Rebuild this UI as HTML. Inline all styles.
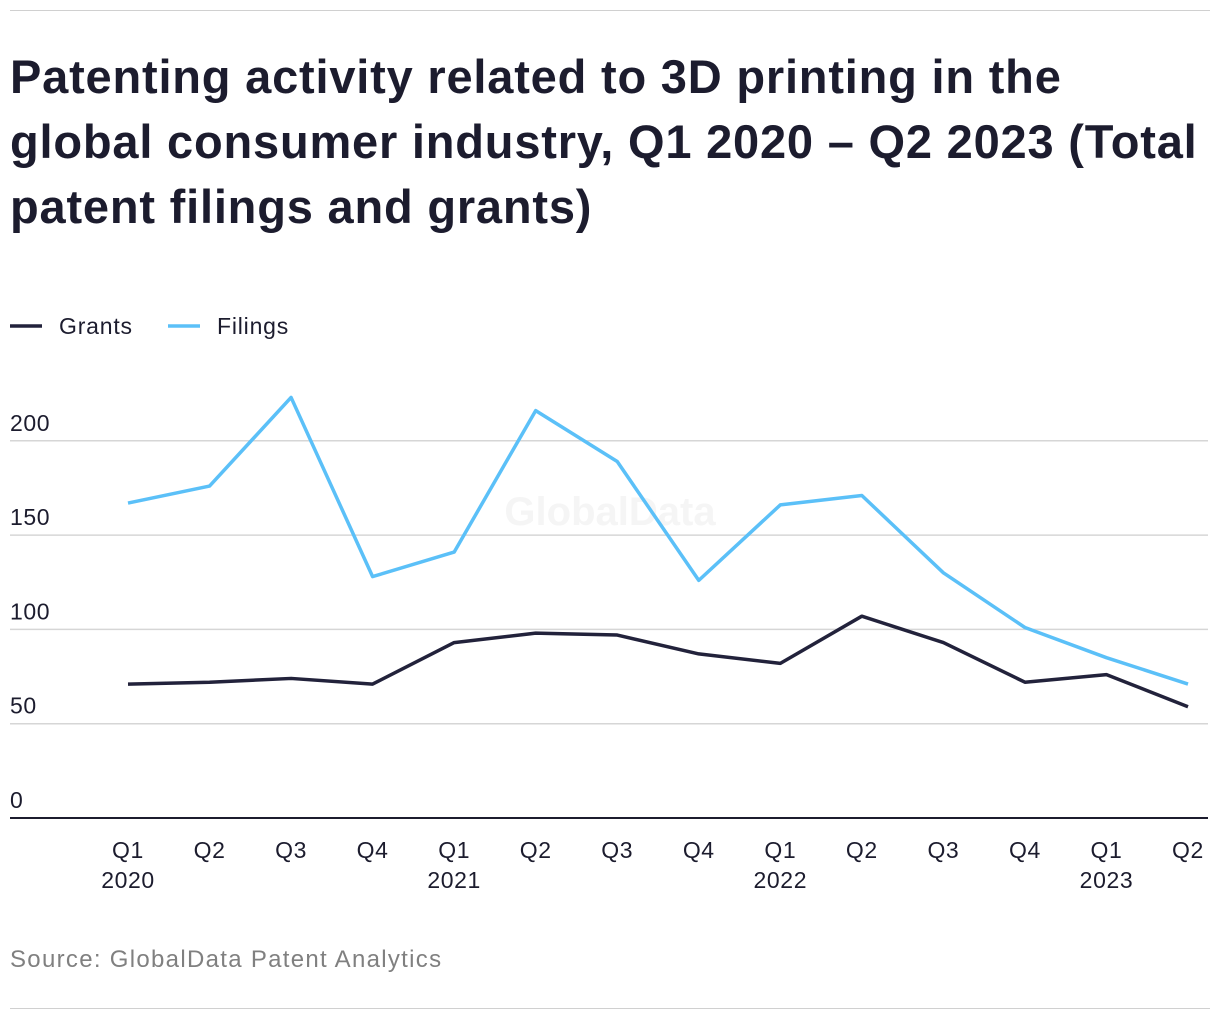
<!DOCTYPE html>
<html><head><meta charset="utf-8"><style>
body{margin:0;width:1220px;height:1020px;background:#fff;font-family:"Liberation Sans",sans-serif;position:relative;overflow:hidden}
.rule{position:absolute;left:10px;width:1200px;height:1px;background:#d0d0d0}
h1{position:absolute;left:10px;top:44px;margin:0;width:1215px;white-space:nowrap;font-size:47px;line-height:65px;font-weight:bold;color:#1c1c2e;letter-spacing:0.8px}
#src{position:absolute;left:10px;top:946px;font-size:24px;color:#808080;letter-spacing:1.3px}
</style></head><body>
<div class="rule" style="top:10px"></div>
<h1>Patenting activity related to 3D printing in the<br>global consumer industry, Q1 2020 – Q2 2023 (Total<br>patent filings and grants)</h1>
<svg id="chart" width="1220" height="1020" style="position:absolute;left:0;top:0"></svg>
<div id="src">Source: GlobalData Patent Analytics</div>
<div class="rule" style="top:1008px"></div>
<script>
const quarters=["Q1","Q2","Q3","Q4","Q1","Q2","Q3","Q4","Q1","Q2","Q3","Q4","Q1","Q2"];
const years=["2020","","","","2021","","","","2022","","","","2023",""];
const filings=[167,176,223,128,141,216,189,126,166,171,130,101,85,71];
const grants=[71,72,74,71,93,98,97,87,82,107,93,72,76,59];
const yTicks=[0,50,100,150,200];
const NS="http://www.w3.org/2000/svg";
const svg=document.getElementById("chart");
const x=i=>128+i*(1188-128)/13;
const y=v=>818-v*1.886;
function mk(t,a){const e=document.createElementNS(NS,t);for(const k in a)e.setAttribute(k,a[k]);svg.appendChild(e);return e;}
let wm=mk("text",{x:610,y:525,"font-size":40,"font-weight":"bold",fill:"#f5f5f5","text-anchor":"middle"});wm.textContent="GlobalData";


yTicks.forEach(v=>{
 if(v>0){const g=mk("line",{x1:10,x2:1208,y1:y(v),y2:y(v),stroke:"#d6d6d6","stroke-width":1.5});
 
 }
 const t=mk("text",{x:10,y:y(v)-10,"font-size":23,fill:"#1c1c2e","letter-spacing":"0.6"});t.textContent=v;
 
 
});
const ax=mk("line",{x1:10,x2:1208,y1:818,y2:818,stroke:"#1c1c2e","stroke-width":2});


quarters.forEach((q,i)=>{
 const t=mk("text",{x:x(i),y:858,"font-size":23,fill:"#1c1c2e","text-anchor":"middle","letter-spacing":"0.6"});t.textContent=q;
 
 
 if(years[i]){const t2=mk("text",{x:x(i),y:888,"font-size":23,fill:"#1c1c2e","text-anchor":"middle","letter-spacing":"0.6"});t2.textContent=years[i];
 
 }
});
function line(d,c,n){const p=mk("polyline",{points:d.map((v,i)=>x(i)+","+y(v)).join(" "),fill:"none",stroke:c,"stroke-width":3.5,"stroke-linejoin":"round"});
 
 }
line(filings,"#5bc0f8","filings-line");
line(grants,"#22223b","grants-line");
[["Grants","#22223b",10],["Filings","#5bc0f8",168]].forEach(([n,c,lx])=>{
 const l=mk("line",{x1:lx,x2:lx+32,y1:326,y2:326,stroke:c,"stroke-width":3.5});
 
 
 const t=mk("text",{x:lx+49,y:334,"font-size":23,fill:"#1c1c2e","letter-spacing":"0.8"});t.textContent=n;
 
 
});
</script>
</body></html>
